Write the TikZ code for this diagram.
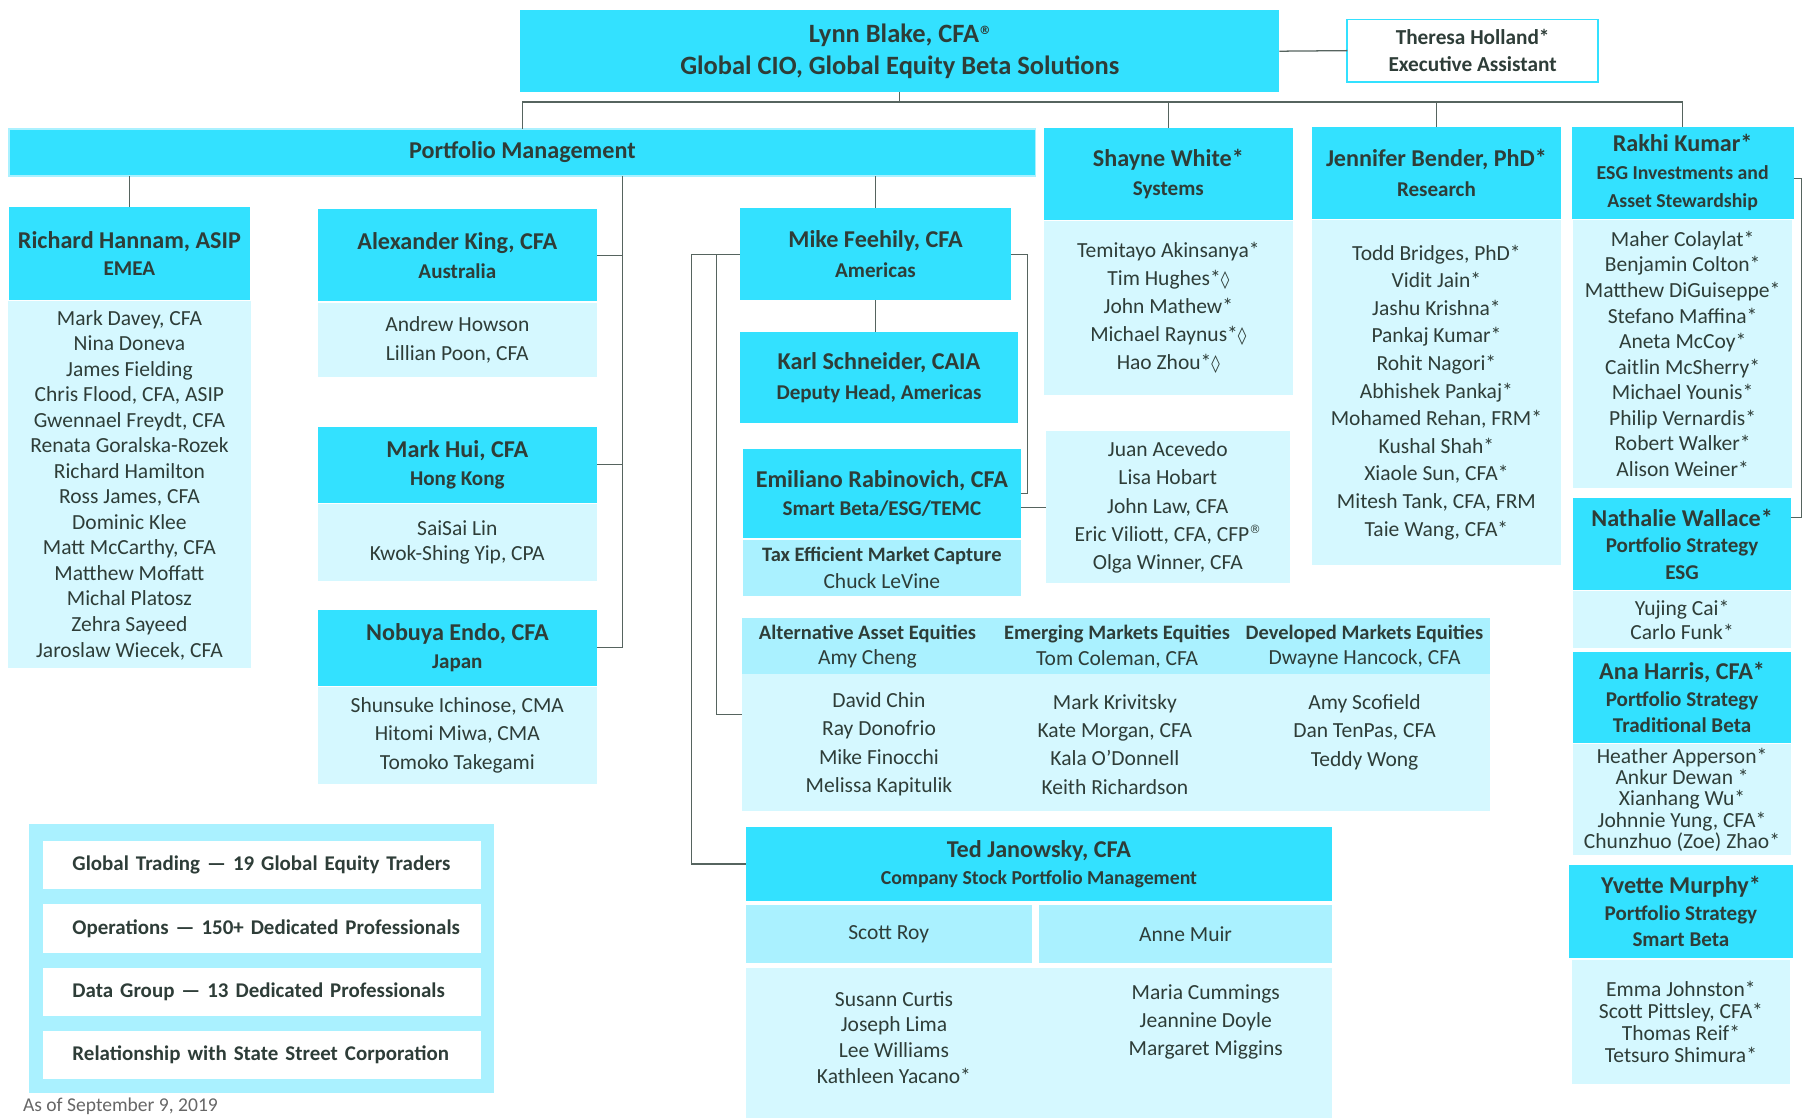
\documentclass[tikz,border=0pt]{standalone}
\usepackage{fontspec}
\setmainfont{Carlito}
\newfontfamily\symfont{DejaVu Sans}
\usetikzlibrary{positioning}
\definecolor{hdrcyan}{HTML}{33E1FF}
\definecolor{bodycyan}{HTML}{D5F8FF}
\definecolor{midcyan}{HTML}{AAF1FF}
\definecolor{txtcol}{HTML}{2E3D38}
\definecolor{linecol}{HTML}{56645F}
\newcommand\subttl[1]{{\fontsize{18.3}{20}\selectfont #1}}
\newcommand\smallttl[1]{{\fontsize{17.2}{19}\selectfont #1}}
\newcommand\bandttl[1]{{\bfseries\fontsize{17.8}{20}\selectfont #1}}
\newcommand\loz{{\symfont\fontsize{15}{15}\selectfont\char"25CA}}
\newcommand\reg{{\symfont\fontsize{10}{10}\selectfont\raisebox{0.7em}{\textregistered}}}

\begin{document}
\begin{tikzpicture}[x=1pt, y=-1pt,
        base/.style={inner sep=0pt, outer sep=0pt, text=txtcol, align=center},
        head/.style={base, fill=hdrcyan, font=\bfseries\fontsize{21}{#1}\selectfont}, head/.default=24,
        team/.style={base, fill=bodycyan, font=\fontsize{18.7}{#1}\selectfont}, team/.default=24,
        band/.style={base, fill=midcyan, font=\fontsize{18.7}{#1}\selectfont}, band/.default=22,
        names/.style={base, font=\fontsize{18.7}{#1}\selectfont}, names/.default=24,
        legitem/.style={base, fill=white, align=left, text width=381, minimum height=42,
            font=\bfseries\fontsize{18.2}{21}\selectfont, execute at begin node=\hspace*{26pt}},
        link/.style={draw=linecol, line width=1.1pt}]
    \useasboundingbox (0,0) rectangle (1568,971);
    \clip (0,0) rectangle (1568,971);

    % top
    \node[head, font=\bfseries\fontsize{23}{28}\selectfont, minimum width=660, minimum height=71] (lynn) at (782,44.5) {Lynn Blake, CFA\reg\\Global CIO, Global Equity Beta Solutions};
    \node[base, draw=hdrcyan, line width=1.5pt, fill=white, font=\bfseries\fontsize{18.5}{23}\selectfont, minimum width=218, minimum height=54] (theresa) at (1280,44) {Theresa Holland*\\Executive Assistant};
    \node[head, draw=midcyan, line width=1.5pt, minimum width=892, minimum height=41] (pm) at (454,132.5) {Portfolio Management};

    % systems, research, esg
    \node[head=25, minimum width=217, minimum height=80] (white) at (1015.5,151) {Shayne White*\\\subttl{Systems}};
    \node[team=24.5, minimum width=217, minimum height=151, below=1pt of white] (whiteteam) {Temitayo Akinsanya*\\Tim Hughes*\loz\\John Mathew*\\Michael Raynus*\loz\\Hao Zhou*\loz};
    \node[head=26, minimum width=217, minimum height=80] (bender) at (1248.5,150) {Jennifer Bender, PhD*\\\subttl{Research}};
    \node[team=24, minimum width=217, minimum height=300, below=1pt of bender] (benderteam) {Todd Bridges, PhD*\\Vidit Jain*\\Jashu Krishna*\\Pankaj Kumar*\\Rohit Nagori*\\Abhishek Pankaj*\\Mohamed Rehan, FRM*\\Kushal Shah*\\Xiaole Sun, CFA*\\Mitesh Tank, CFA, FRM\\Taie Wang, CFA*};
    \node[head=24.5, minimum width=193, minimum height=80] (kumar) at (1462.5,150) {Rakhi Kumar*\\\smallttl{ESG Investments and}\\\smallttl{Asset Stewardship}};
    \node[team=22.2, minimum width=190, minimum height=233, below=1pt of kumar] (kumarteam) {Maher Colaylat*\\Benjamin Colton*\\Matthew DiGuiseppe*\\Stefano Maffina*\\Aneta McCoy*\\Caitlin McSherry*\\Michael Younis*\\Philip Vernardis*\\Robert Walker*\\Alison Weiner*};
    \node[head=23, minimum width=190, minimum height=80] (wallace) at (1462,473) {Nathalie Wallace*\\\subttl{Portfolio Strategy}\\\subttl{ESG}};
    \node[team=21, minimum width=190, minimum height=49, below=1pt of wallace] (wallaceteam) {Yujing Cai*\\Carlo Funk*};
    \node[head=23, minimum width=190, minimum height=79] (harris) at (1462,606.5) {Ana Harris, CFA*\\\subttl{Portfolio Strategy}\\\subttl{Traditional Beta}};
    \node[team=18.5, minimum width=190, minimum height=96, below=1pt of harris] (harristeam) {Heather Apperson*\\Ankur Dewan *\\Xianhang Wu*\\Johnnie Yung, CFA*\\Chunzhuo (Zoe) Zhao*};
    \node[head=23, minimum width=194, minimum height=81] (murphy) at (1461,792.5) {Yvette Murphy*\\\subttl{Portfolio Strategy}\\\subttl{Smart Beta}};
    \node[team=19, minimum width=190, minimum height=108, below=1pt of murphy] (murphyteam) {Emma Johnston*\\Scott Pittsley, CFA*\\Thomas Reif*\\Tetsuro Shimura*};

    % regions
    \node[head=23, minimum width=209, minimum height=81] (hannam) at (112.5,220.5) {Richard Hannam, ASIP\\\subttl{EMEA}};
    \node[team=22.2, minimum width=211, minimum height=319, below=1pt of hannam] (hannamteam) {Mark Davey, CFA\\Nina Doneva\\James Fielding\\Chris Flood, CFA, ASIP\\Gwennael Freydt, CFA\\Renata Goralska-Rozek\\Richard Hamilton\\Ross James, CFA\\Dominic Klee\\Matt McCarthy, CFA\\Matthew Moffatt\\Michal Platosz\\Zehra Sayeed\\Jaroslaw Wiecek, CFA};
    \node[head=25, minimum width=243, minimum height=80] (king) at (397.5,222) {Alexander King, CFA\\\subttl{Australia}};
    \node[team=25, minimum width=243, minimum height=65, below=1pt of king] (kingteam) {Andrew Howson\\Lillian Poon, CFA};
    \node[head=24, minimum width=243, minimum height=66] (hui) at (397.5,404) {Mark Hui, CFA\\\subttl{Hong Kong}};
    \node[team=22, minimum width=243, minimum height=67, below=1pt of hui] (huiteam) {SaiSai Lin\\Kwok-Shing Yip, CPA};
    \node[head=24, minimum width=243, minimum height=66] (endo) at (397.5,563) {Nobuya Endo, CFA\\\subttl{Japan}};
    \node[team=25, minimum width=243, minimum height=84, below=1pt of endo] (endoteam) {Shunsuke Ichinose, CMA\\Hitomi Miwa, CMA\\Tomoko Takegami};

    % americas
    \node[head=26, minimum width=236, minimum height=80] (feehily) at (761,221) {Mike Feehily, CFA\\\subttl{Americas}};
    \node[head=26, minimum width=242, minimum height=79] (schneider) at (764,328.5) {Karl Schneider, CAIA\\\subttl{Deputy Head, Americas}};
    \node[head=24, minimum width=241, minimum height=78] (rabinovich) at (766.5,429) {Emiliano Rabinovich, CFA\\\subttl{Smart Beta/ESG/TEMC}};
    \node[band=23, minimum width=241, minimum height=49, below=1pt of rabinovich] (temc) {\bandttl{Tax Efficient Market Capture}\\Chuck LeVine};
    \node[team=24.5, minimum width=212, minimum height=132] (rabteam) at (1015,441) {Juan Acevedo\\Lisa Hobart\\John Law, CFA\\Eric Viliott, CFA, CFP\reg\\Olga Winner, CFA};

    \node[team, minimum width=650, minimum height=168] (markets) at (970,621) {};
    \node[band, minimum width=650, minimum height=49, below=0pt of markets.north] (mkthead) {};
    \node[names=22] (altlead) at (754,562) {\bandttl{Alternative Asset Equities}\\Amy Cheng};
    \node[names=22] (emlead) at (971,562) {\bandttl{Emerging Markets Equities}\\Tom Coleman, CFA};
    \node[names=22] (dmlead) at (1186,562) {\bandttl{Developed Markets Equities}\\Dwayne Hancock, CFA};
    \node[names=24.7] (altteam) at (764,647) {David Chin\\Ray Donofrio\\Mike Finocchi\\Melissa Kapitulik};
    \node[names=24.7] (emteam) at (969,647) {Mark Krivitsky\\Kate Morgan, CFA\\Kala O’Donnell\\Keith Richardson};
    \node[names=24.5] (dmteam) at (1186,636.5) {Amy Scofield\\Dan TenPas, CFA\\Teddy Wong};

    \node[head=23, minimum width=510, minimum height=64] (janowsky) at (903,751) {Ted Janowsky, CFA\\\smallttl{Company Stock Portfolio Management}};
    \node[band, minimum width=249, minimum height=50] (roy) at (772.5,812) {Scott Roy};
    \node[band, minimum width=255, minimum height=50] (muir) at (1030.5,812) {Anne Muir};
    \node[team, minimum width=510, minimum height=134] (janowskyteam) at (903,908) {};
    \node[names=22.3] (royteam) at (777,901.5) {Susann Curtis\\Joseph Lima\\Lee Williams\\Kathleen Yacano*};
    \node[names=24.5] (muirteam) at (1048,888.5) {Maria Cummings\\Jeannine Doyle\\Margaret Miggins};

    % legend
    \node[base, fill=midcyan, minimum width=404, minimum height=234] (legend) at (227,833) {};
    \node[legitem] (trading) at (227.5,752) {Global Trading — 19 Global Equity Traders};
    \node[legitem, below=13pt of trading] (ops) {Operations — 150+ Dedicated Professionals};
    \node[legitem, below=13pt of ops] (datagrp) {Data Group — 13 Dedicated Professionals};
    \node[legitem, below=13pt of datagrp] (ssc) {Relationship with State Street Corporation};
    \node[base, anchor=base west, text=gray!80!black, font=\fontsize{17}{20}\selectfont] (asof) at (20,966) {As of September 9, 2019};

    % connectors
    \coordinate (bus) at (782,89);
    \draw[link] (lynn.east) -- (theresa.west);
    \draw[link] (lynn.south) -- (bus);
    \draw[link, line width=1.6pt] (pm.north |- bus) -- (kumar.north |- bus);
    \foreach \n in {pm, white, bender, kumar}
        \draw[link] (\n.north |- bus) -- (\n.north);

    \coordinate (spine) at (541,153);
    \draw[link] (pm.south -| hannam.north) -- (hannam.north);
    \draw[link] (spine) |- (endo.east);
    \foreach \n in {king, hui}
        \draw[link] (\n.east) -- (\n.east -| spine);
    \draw[link] (pm.south -| feehily.north) -- (feehily.north);

    \coordinate (outer) at (601,0);
    \coordinate (inner) at (623,0);
    \coordinate (rbend) at (893,0);
    \draw[link] (feehily.west) -- (feehily.west -| outer) |- (janowsky.west);
    \draw[link] (feehily.west -| inner) |- (markets.west);
    \draw[link] (feehily.south) -- (feehily.south |- schneider.north);
    \draw[link] (feehily.east) -- (feehily.east -| rbend) |- (rabinovich.east);
    \draw[link] (rabteam.west) -- (rabteam.west -| rabinovich.east);
    \draw[link] ([yshift=-5pt]kumar.east) -- ++(7,0) |- ([yshift=23pt]wallace.east);
\end{tikzpicture}
\end{document}
